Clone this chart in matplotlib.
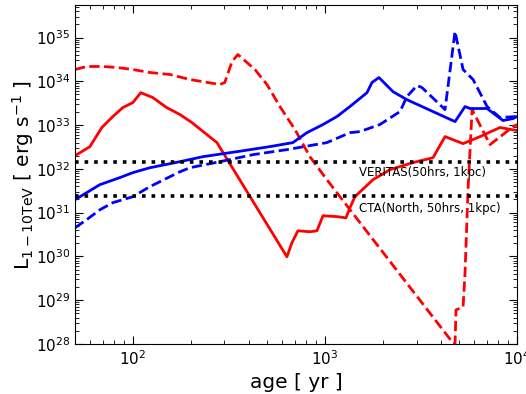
import matplotlib
matplotlib.use("Agg")
import matplotlib.pyplot as plt

# age [yr] and L_1-10TeV [erg/s]
red_solid_age = [50, 59.7, 69, 78.7, 88.7, 100, 110, 127, 150, 176, 203, 274, 634, 673,
                 723, 835, 908, 977, 1155, 1286, 1349, 1432, 1778, 2181, 2873, 3652,
                 4217, 5236, 6417, 8147, 10000]
red_solid_L = [2.0e32, 3.2e32, 8.8e32, 1.57e33, 2.51e33, 3.27e33, 5.5e33, 4.26e33, 2.51e33,
               1.74e33, 1.14e33, 3.98e32, 9.8e29, 2.05e30, 3.85e30, 3.66e30, 3.85e30,
               8.5e30, 8.1e30, 7.6e30, 1.29e31, 2.31e31, 5.66e31, 9.6e31, 1.39e32, 1.8e32,
               5.46e32, 3.77e32, 5.46e32, 8.8e32, 7.5e32]

red_dash_age = [50, 57.5, 69.8, 82.6, 100, 122.6, 156, 198, 284, 301, 328, 352, 432, 499,
                583, 698, 835, 1024, 1197, 4642, 4755, 4810, 5236, 5360, 5556, 5834, 7230,
                9530, 10000]
red_dash_L = [1.86e34, 2.18e34, 2.18e34, 2.07e34, 1.86e34, 1.59e34, 1.43e34, 1.1e34, 8.45e33,
              9.4e33, 2.8e34, 4.1e34, 1.86e34, 8.45e33, 2.65e33, 7.9e32, 1.9e32, 5.66e31,
              2.31e31, 1.05e28, 1.0e28, 6.0e28, 7.0e28, 4.2e29, 3.34e31, 2.26e33, 3.58e32,
              9.2e32, 1.03e33]

blue_solid_age = [50, 67.3, 85.5, 100, 122.6, 176, 232, 348, 517, 681, 805, 977, 1155, 1349,
                  1655, 1757, 1910, 2260, 2673, 4755, 5360, 5689, 6982, 8450, 9530, 10000]
blue_solid_L = [1.97e31, 4.35e31, 6.3e31, 8.2e31, 1.06e32, 1.46e32, 1.9e32, 2.47e32, 3.22e32,
                3.98e32, 6.7e32, 1.03e33, 1.57e33, 2.65e33, 5.5e33, 9.4e33, 1.22e34, 5.8e33,
                3.8e33, 1.2e33, 2.65e33, 2.39e33, 2.39e33, 1.27e33, 1.41e33, 1.57e33]

blue_dash_age = [50, 57.5, 67.3, 78.7, 100, 122.6, 176, 198, 284, 422, 634, 1024, 1349, 1521,
                 1932, 2460, 2673, 3014, 3199, 4217, 4755, 5236, 5902, 6982, 8147, 10000]
blue_dash_L = [4.5e30, 6.9e30, 1.16e31, 1.69e31, 2.31e31, 3.92e31, 8.6e31, 1.06e32, 1.46e32,
               2.11e32, 2.75e32, 3.98e32, 6.7e32, 7.1e32, 1.03e33, 2.04e33, 4.5e33, 8.0e33,
               7.2e33, 2.26e33, 1.38e35, 1.86e34, 1.1e34, 2.65e33, 1.49e33, 1.57e33]

veritas_L = 1.46e32
cta_L = 2.4e31

fig = plt.figure(figsize=(5.26, 3.94), dpi=100)
ax = fig.add_axes([0.1426, 0.127, 0.8404, 0.86])

ax.plot(red_solid_age, red_solid_L, color='r', lw=2)
ax.plot(red_dash_age, red_dash_L, color='r', lw=2, ls='--')
ax.plot(blue_solid_age, blue_solid_L, color='b', lw=2)
ax.plot(blue_dash_age, blue_dash_L, color='b', lw=2, ls='--')

ax.axhline(veritas_L, color='k', lw=2.6, ls=':')
ax.axhline(cta_L, color='k', lw=2.6, ls=':')
ax.text(1503, 8.2e31, 'VERITAS(50hrs, 1kpc)', fontsize=8.5, va='center')
ax.text(1503, 1.23e31, 'CTA(North, 50hrs, 1kpc)', fontsize=8.5, va='center')

ax.set_xscale('log')
ax.set_yscale('log')
ax.set_xlim(50, 1e4)
ax.set_ylim(1e28, 5.5e35)
ax.tick_params(which='both', direction='in', top=True, right=True, labelsize=11)
ax.tick_params(which='major', length=6)
ax.tick_params(which='minor', length=3)

ax.set_xlabel('age [ yr ]', fontsize=14.5)
ax.set_ylabel(r'$\mathrm{L_{1-10TeV}}$ [ erg s$^{-1}$ ]', fontsize=14.5, labelpad=0)

plt.savefig('out.png', dpi=100)
